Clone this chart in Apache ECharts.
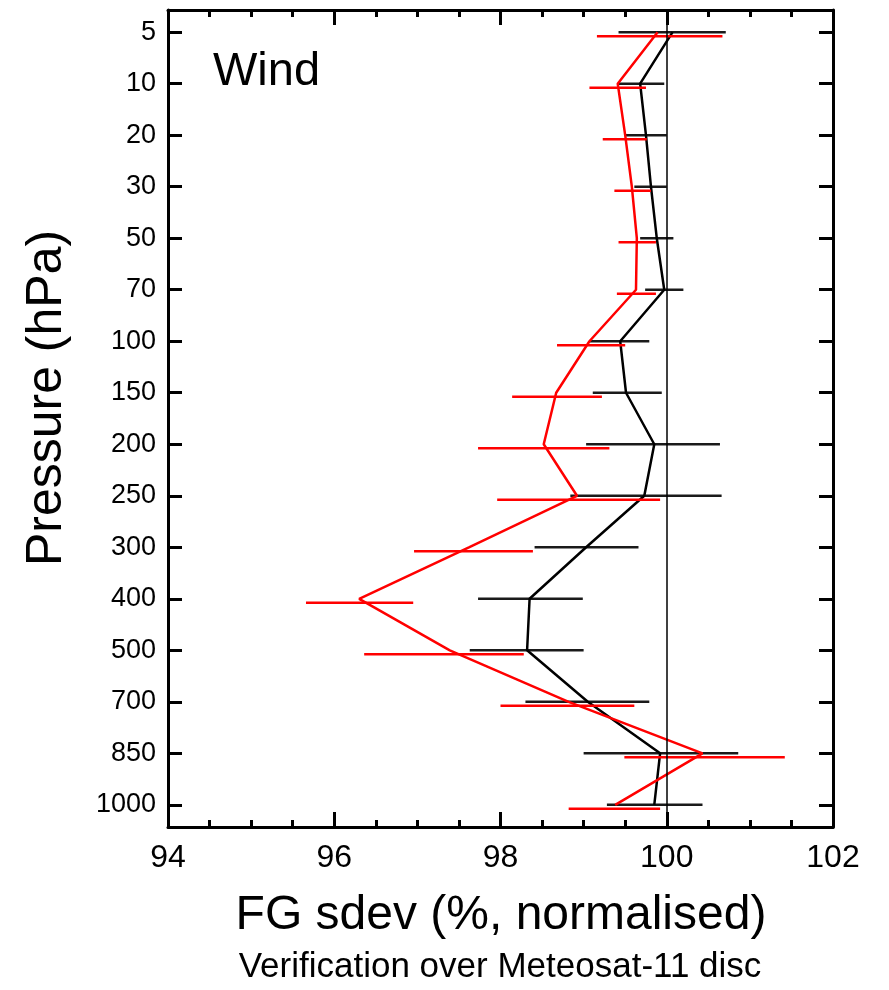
<!DOCTYPE html>
<html>
<head>
<meta charset="utf-8">
<script src="https://cdn.jsdelivr.net/npm/echarts@6/dist/echarts.min.js"></script>
<style>
  html, body { margin: 0; padding: 0; background: #fff; }
  #main { width: 889px; height: 990px; }
</style>
</head>
<body>
<div id="main"></div>
<script>
// pressure levels (top to bottom)
var levels = ['5', '10', '20', '30', '50', '70', '100', '150', '200', '250', '300', '400', '500', '700', '850', '1000'];

// black experiment: mean and error bar ends
var blackMean = [100.07, 99.68, 99.75, 99.81, 99.88, 99.97, 99.44, 99.51, 99.85, 99.73, 99.03, 98.35, 98.32, 99.05, 99.92, 99.85];
var blackLow  = [99.42, 99.42, 99.50, 99.61, 99.68, 99.74, 99.07, 99.11, 99.03, 98.84, 98.41, 97.73, 97.63, 98.30, 99.00, 99.28];
var blackHigh = [100.71, 99.97, 100.00, 100.00, 100.08, 100.20, 99.79, 99.94, 100.64, 100.66, 99.66, 98.99, 99.00, 99.79, 100.86, 100.43];

// red experiment
var redMean = [99.89, 99.41, 99.50, 99.58, 99.64, 99.63, 99.07, 98.67, 98.52, 98.92, 97.62, 96.30, 97.39, 98.82, 100.43, 99.38];
var redLow  = [99.16, 99.07, 99.23, 99.37, 99.42, 99.40, 98.68, 98.14, 97.73, 97.96, 96.96, 95.66, 96.36, 98.00, 99.49, 98.82];
var redHigh = [100.67, 99.75, 99.76, 99.81, 99.87, 99.87, 99.50, 99.22, 99.31, 99.92, 98.39, 96.95, 98.28, 99.61, 101.42, 99.92];

var xTicks = [94, 96, 98, 100, 102];

var FONT = '"Liberation Sans", Arial, Helvetica, sans-serif';
var chart = echarts.init(document.getElementById('main'), null, { renderer: 'canvas' });

var idx = levels.map(function (l, i) { return i; });

function lineData(vals) {
  return vals.map(function (v, i) { return [v, i]; });
}
function barData(lo, hi) {
  return lo.map(function (v, i) { return [v, hi[i], i]; });
}
function errorBars(color, offset) {
  return function (params, api) {
    var a = api.coord([api.value(0), api.value(2)]);
    var b = api.coord([api.value(1), api.value(2)]);
    return {
      type: 'line',
      shape: { x1: a[0], y1: a[1] + offset, x2: b[0], y2: b[1] + offset },
      style: { stroke: color, lineWidth: 2.5 }
    };
  };
}

var xCommon = {
  type: 'value',
  min: 94,
  max: 102,
  interval: 2,
  splitLine: { show: false },
  axisLine: { show: true, onZero: false, lineStyle: { color: '#000', width: 3 } },
  axisTick: { show: true, inside: true, length: 15, lineStyle: { color: '#000', width: 3 } },
  minorTick: { show: true, splitNumber: 4, length: 7, lineStyle: { color: '#000', width: 3 } }
};
var yCommon = {
  type: 'value',
  inverse: true,
  min: -0.43,
  max: 15.43,
  splitLine: { show: false },
  axisLine: { show: true, onZero: false, lineStyle: { color: '#000', width: 3 } },
  axisTick: { show: true, inside: true, length: 14, customValues: idx, lineStyle: { color: '#000', width: 3 } }
};

chart.setOption({
  animation: false,
  backgroundColor: '#fff',
  grid: { left: 168, right: 56, top: 10, bottom: 163 },
  xAxis: [
    Object.assign({}, xCommon, {
      position: 'bottom',
      axisLabel: {
        customValues: xTicks,
        margin: 15,
        fontSize: 32,
        color: '#000',
        fontFamily: FONT
      }
    }),
    Object.assign({}, xCommon, { position: 'top', axisLabel: { show: false } })
  ],
  yAxis: [
    Object.assign({}, yCommon, {
      position: 'left',
      axisLabel: {
        customValues: idx,
        margin: 12,
        fontSize: 27,
        color: '#000',
        fontFamily: FONT,
        formatter: function (v) { return levels[Math.round(v)]; }
      }
    }),
    Object.assign({}, yCommon, { position: 'right', axisLabel: { show: false } })
  ],
  graphic: [
    { type: 'text', x: 213, y: 72, style: { text: 'Wind', font: '47px ' + FONT, fill: '#000', verticalAlign: 'middle' } },
    { type: 'text', x: 47, y: 398, rotation: Math.PI / 2, style: { text: 'Pressure (hPa)', font: '50px ' + FONT, fill: '#000', align: 'center', verticalAlign: 'middle' } },
    { type: 'text', x: 501, y: 916, style: { text: 'FG sdev (%, normalised)', font: '48px ' + FONT, fill: '#000', align: 'center', verticalAlign: 'middle' } },
    { type: 'text', x: 500, y: 967, style: { text: 'Verification over Meteosat-11 disc', font: '35px ' + FONT, fill: '#000', align: 'center', verticalAlign: 'middle' } }
  ],
  series: [
    {
      type: 'line',
      data: lineData(blackMean),
      symbol: 'none',
      lineStyle: { color: '#000', width: 2.5 },
      z: 3,
      markLine: {
        silent: true,
        symbol: 'none',
        label: { show: false },
        lineStyle: { color: '#000', width: 1.5, type: 'solid' },
        data: [{ xAxis: 100 }]
      }
    },
    {
      type: 'custom',
      data: barData(blackLow, blackHigh),
      encode: { x: [0, 1], y: 2 },
      renderItem: errorBars('#1a1a1a', 0),
      z: 3
    },
    {
      type: 'line',
      data: lineData(redMean),
      symbol: 'none',
      lineStyle: { color: '#ff0000', width: 2.5 },
      z: 4
    },
    {
      type: 'custom',
      data: barData(redLow, redHigh),
      encode: { x: [0, 1], y: 2 },
      renderItem: errorBars('#ff0000', 4),
      z: 4
    }
  ]
});
</script>
</body>
</html>
